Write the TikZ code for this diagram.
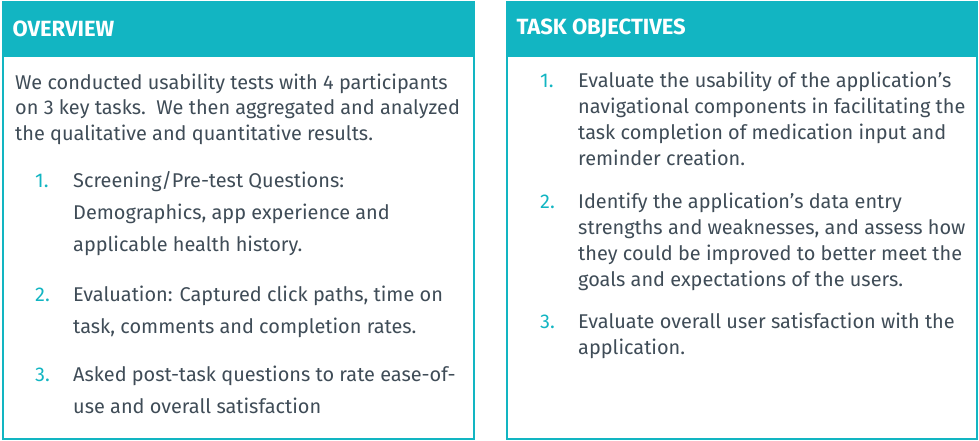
\documentclass[tikz,border=0pt]{standalone}
\usepackage{fontspec}
\setmainfont{Fira Sans}
\usetikzlibrary{positioning}
\definecolor{teal1}{HTML}{12B5C2}
\definecolor{ink}{HTML}{3F4C57}
\tikzset{
    panel/.style={draw=teal1, line width=1.5pt},
    header/.style={fill=teal1, draw=teal1, line width=1.5pt},
    headtext/.style={anchor=west, text=white, font=\fontsize{22}{24}\selectfont\bfseries},
    body/.style={anchor=north west, inner sep=0pt, align=left, text=ink, font=\fontsize{19.9}{26}\selectfont},
    intro/.style={body, font=\fontsize{19.9}{25.5}\selectfont},
    item/.style={body, font=\fontsize{19.9}{32}\selectfont},
    num/.style={anchor=north west, inner sep=0pt, text=teal1, font=\fontsize{19.9}{26}\selectfont},
    numl/.style={num, font=\fontsize{19.9}{32}\selectfont}
}
\begin{document}
\begin{tikzpicture}[x=1pt, y=-1pt]
    \useasboundingbox (0,0) rectangle (979,441);

    % the panels
    \draw[panel] (3,2) rectangle (474,439);
    \draw[header] (3,2) rectangle (474,56);
    \draw[panel] (507,2) rectangle (977,439);
    \draw[header] (507,2) rectangle (977,56);

    % the headers
    \node[headtext] (overview) at (9,29) {OVERVIEW};
    \node[headtext] (objectives) at (513,29) {TASK OBJECTIVES};

    % left panel
    \node[intro] (intro) at (15,71.2) {\strut We conducted usability tests with 4 participants\\on 3 key tasks.\ \ We then aggregated and analyzed\\the qualitative and quantitative results.};
    \node[numl] (n1) at (35,164.6) {\strut 1.};
    \node[item] (t1) at (73,164.6) {\strut Screening/Pre-test Questions:\\Demographics, app experience and\\applicable health history.};
    \node[numl] (n2) at (35,278.6) {\strut 2.};
    \node[item] (t2) at (73,278.6) {\strut Evaluation: Captured click paths, time on\\task, comments and completion rates.};
    \node[numl] (n3) at (35,358.6) {\strut 3.};
    \node[item] (t3) at (73,358.6) {\strut Asked post-task questions to rate ease-of-\\use and overall satisfaction};

    % right panel
    \node[num] (m1) at (540,68.8) {\strut 1.};
    \node[body] (s1) at (578,68.8) {\strut Evaluate the usability of the application’s\\navigational components in facilitating the\\task completion of medication input and\\reminder creation.};
    \node[num] (m2) at (540,189.8) {\strut 2.};
    \node[body] (s2) at (578,189.8) {\strut Identify the application’s data entry\\strengths and weaknesses, and assess how\\they could be improved to better meet the\\goals and expectations of the users.};
    \node[num] (m3) at (540,309.8) {\strut 3.};
    \node[body] (s3) at (578,309.8) {\strut Evaluate overall user satisfaction with the\\application.};
\end{tikzpicture}
\end{document}
